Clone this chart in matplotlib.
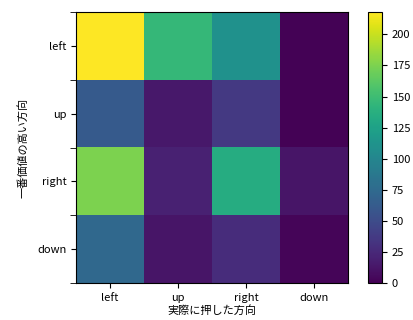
import matplotlib
matplotlib.use("Agg")
import matplotlib.pyplot as plt
import numpy as np

plt.rcParams['font.family'] = ['Noto Sans CJK JP', 'DejaVu Sans']

x_labels = ["left", "up", "right", "down"]
y_labels = ["left", "up", "right", "down"]
values = [
    [218, 145, 110, 1],
    [62, 14, 36, 1],
    [175, 20, 135, 12],
    [74, 12, 28, 3],
]

fig = plt.figure(figsize=(4.14, 3.2), dpi=100)
ax = fig.add_axes([76/414, 1-283/320, 272/414, 271/320])
cax = fig.add_axes([368/414, 1-283/320, 14/414, 271/320])
im = ax.imshow(np.array(values), cmap="viridis", vmin=0, vmax=218, aspect="auto")
ax.set_xticks(range(len(x_labels)))
ax.set_xticklabels(x_labels, fontsize=8)
ax.set_yticks(range(len(y_labels)))
ax.set_yticklabels(y_labels, fontsize=8)
ax.set_yticks(np.arange(-0.5, 4, 1), minor=True)
ax.tick_params(which="minor", length=4)
ax.set_xlabel("実際に押した方向", fontsize=8, labelpad=2)
ax.set_ylabel("一番価値の高い方向", fontsize=8, labelpad=6)
cb = fig.colorbar(im, cax=cax)
cb.set_ticks([0, 25, 50, 75, 100, 125, 150, 175, 200])
cb.ax.tick_params(labelsize=8)
fig.savefig("out.png", dpi=100)
